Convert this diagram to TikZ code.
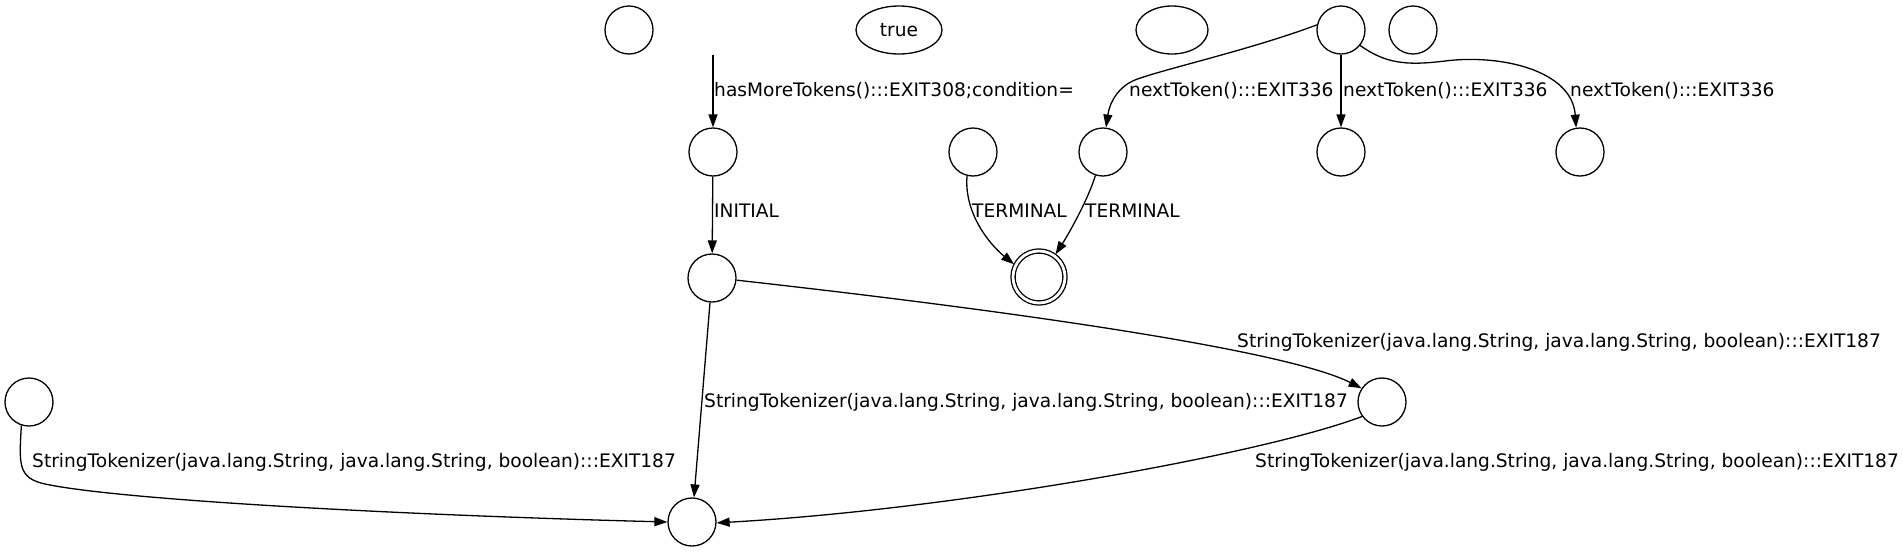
\documentclass[tikz,border=0pt]{standalone}
\usepackage{fontspec}
\setmainfont{DejaVu Sans}
\usetikzlibrary{arrows.meta,shapes.geometric}
\begin{document}
\begin{tikzpicture}[x=1pt,y=-1pt,
  st/.style={circle,draw,line width=1.3pt,minimum size=48pt,inner sep=0pt},
  ell/.style={ellipse,draw,line width=1.3pt,minimum height=48pt,inner sep=0pt,font=\fontsize{18.6}{22}\selectfont},
  lbl/.style={anchor=base west,inner sep=0pt,font=\fontsize{18.6}{22}\selectfont},
  edge/.style={line width=1.3pt,-{Triangle[length=13pt,width=9pt]}}]
\useasboundingbox[fill=white] (0,0) rectangle (1903,552);
% nodes
\node[st] (c1) at (629,30) {};
\node[ell,minimum width=86pt] (tr) at (899,30) {true};
\node[ell,minimum width=72pt] (e1) at (1172,30) {};
\node[st] (src) at (1341,30) {};
\node[st] (c5) at (1413,30) {};
\coordinate (start) at (713,55);
\node[st] (ca) at (713,152) {};
\node[st] (t1) at (973,152) {};
\node[st] (t2) at (1103,152) {};
\node[st] (n2) at (1341,152) {};
\node[st] (n3) at (1580,152) {};
\node[st,minimum size=52pt,double,double distance=2.8pt,outer sep=2pt] (fin) at (1039,277) {};
\node[st] (cb) at (712,278) {};
\node[st] (cc) at (1382,402) {};
\node[st] (cl) at (29,402) {};
\node[st] (cbot) at (692,522) {};
% edges
\draw[edge] (start) -- (ca);
\node[lbl] (l1) at (714,96.7) {hasMoreTokens():::EXIT308;condition=};
\draw[edge] (ca) -- (cb);
\node[lbl] (l2) at (714,217) {INITIAL};
\draw[edge] (t1.-104) .. controls (964,212) and (988,243) .. (fin.153);
\node[lbl] (l3) at (972,217) {TERMINAL};
\draw[edge] (t2.-108) .. controls (1088,200) and (1068,235) .. (fin.54);
\node[lbl] (l4) at (1085,217) {TERMINAL};
\draw[edge] (src.168) .. controls (1250,50) and (1160,70) .. (1135,80) .. controls (1120,86) and (1110,100) .. (t2.83);
\node[lbl] (l5) at (1129,96.7) {nextToken():::EXIT336};
\draw[edge] (src) -- (n2);
\node[lbl] (l6) at (1343,96.7) {nextToken():::EXIT336};
\draw[edge] (src.-39) .. controls (1385,63) and (1405,66) .. (1445,61) .. controls (1500,54) and (1572,70) .. (n3.99);
\node[lbl] (l7) at (1570,96.7) {nextToken():::EXIT336};
\draw[edge] (cb) -- (cbot);
\node[lbl] (l8) at (704,407.5) {StringTokenizer(java.lang.String, java.lang.String, boolean):::EXIT187};
\draw[edge] (cb.-5) .. controls (1040,314) and (1290,352) .. (cc.146);
\node[lbl] (l9) at (1237,347) {StringTokenizer(java.lang.String, java.lang.String, boolean):::EXIT187};
\draw[edge] (cc.-144) .. controls (1260,455) and (950,510) .. (cbot.-2);
\node[lbl] (l10) at (1255,467) {StringTokenizer(java.lang.String, java.lang.String, boolean):::EXIT187};
\draw[edge] (cl.-108) .. controls (19,465) and (18,478) .. (45,484) .. controls (120,500) and (400,515) .. (cbot.180);
\node[lbl] (l11) at (32,467) {StringTokenizer(java.lang.String, java.lang.String, boolean):::EXIT187};
\end{tikzpicture}
\end{document}
